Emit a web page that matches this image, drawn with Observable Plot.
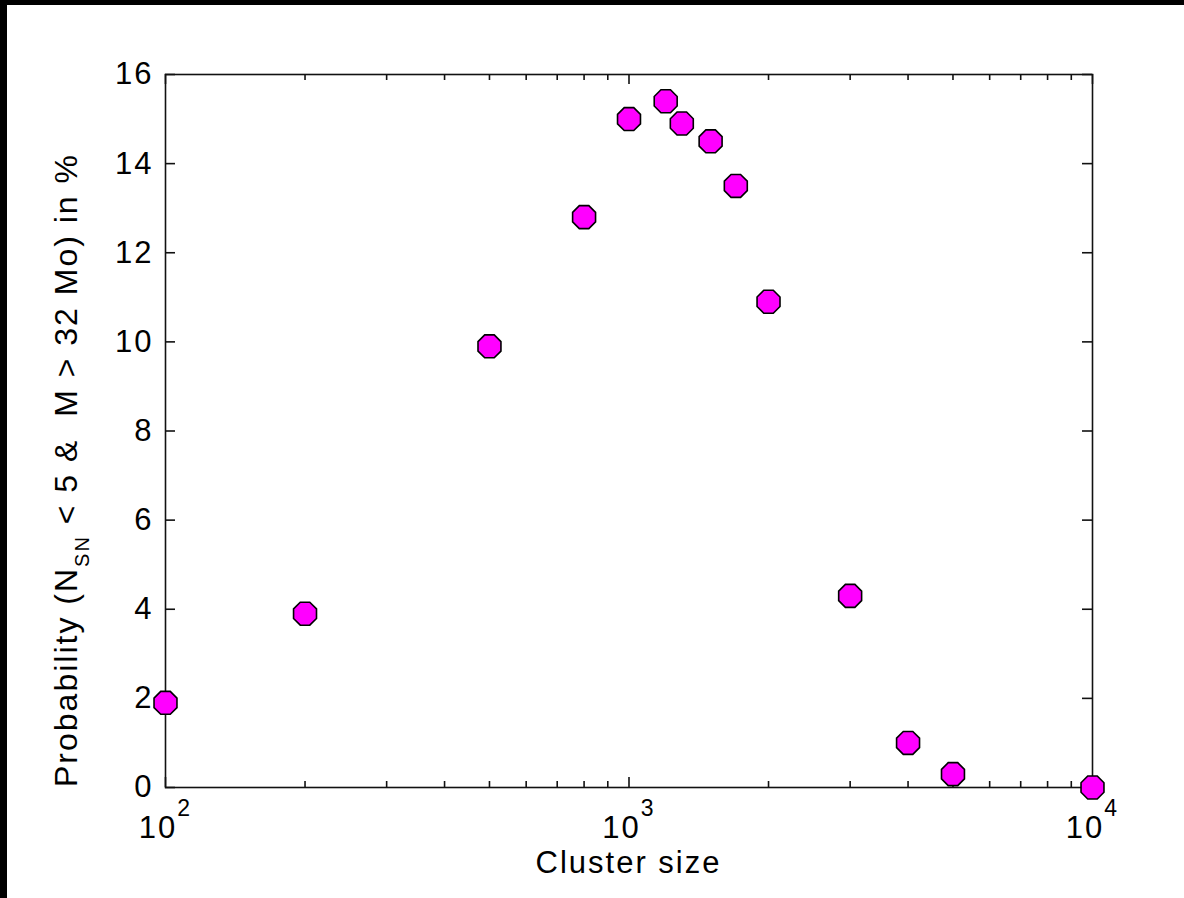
<!DOCTYPE html>
<html><head><meta charset="utf-8">
<script src="https://cdn.jsdelivr.net/npm/d3@7"></script>
<script src="https://cdn.jsdelivr.net/npm/@observablehq/plot@0.6"></script>
<style>
html,body{margin:0;padding:0;background:#000;width:1184px;height:898px;overflow:hidden;}
#wrap{position:absolute;left:7px;top:5px;width:1177px;height:893px;background:#fff;}
svg{display:block}
</style></head><body><div id="wrap"></div>
<script>
// Data
const clusterSize = [100, 200, 500, 800, 1000, 1200, 1300, 1500, 1700, 2000, 3000, 4000, 5000, 10000];
const probability = [1.9, 3.9, 9.9, 12.8, 15.0, 15.4, 14.9, 14.5, 13.5, 10.9, 4.3, 1.0, 0.3, 0.0];
const yTicks = [0, 2, 4, 6, 8, 10, 12, 14, 16];
const xMajorTicks = [100, 1000, 10000];
const xMinorTicks = [200, 300, 400, 500, 600, 700, 800, 900, 2000, 3000, 4000, 5000, 6000, 7000, 8000, 9000];
const xLabel = "Cluster size";
const yLabelParts = ["Probability (N", "SN", " < 5 &  M > 32 Mo) in %"];

const data = clusterSize.map((x, i) => ({x, y: probability[i]}));

const W = 1177, H = 893;
const mL = 158, mR = 92, mT = 69, mB = 111;
const pw = W - mL - mR, ph = H - mT - mB;
const FONT = "'Liberation Sans', Arial, Helvetica, sans-serif";

const octagon = {
  draw(ctx, size) {
    const r = Math.sqrt(size / Math.PI) * 1.08;
    for (let i = 0; i < 8; i++) {
      const a = Math.PI / 8 + i * Math.PI / 4;
      const px = r * Math.cos(a), py = r * Math.sin(a);
      if (i) ctx.lineTo(px, py); else ctx.moveTo(px, py);
    }
    ctx.closePath();
  }
};

const chart = Plot.plot({
  width: W, height: H,
  marginLeft: mL, marginRight: mR, marginTop: mT, marginBottom: mB,
  style: {fontFamily: FONT, fontSize: "31px", background: "white", color: "black", letterSpacing: "2px"},
  x: {type: "log", domain: [100, 10000]},
  y: {domain: [0, 16]},
  marks: [
    Plot.frame({stroke: "#111", strokeWidth: 1.6}),
    Plot.tickY(yTicks, {y: d => d, insetRight: pw - 10, stroke: "#111", strokeWidth: 1.6}),
    Plot.tickY(yTicks, {y: d => d, insetLeft: pw - 10, stroke: "#111", strokeWidth: 1.6}),
    Plot.tickX(xMajorTicks, {x: d => d, insetTop: ph - 10, stroke: "#111", strokeWidth: 1.6}),
    Plot.tickX(xMajorTicks, {x: d => d, insetBottom: ph - 10, stroke: "#111", strokeWidth: 1.6}),
    Plot.tickX(xMinorTicks, {x: d => d, insetTop: ph - 6, stroke: "#111", strokeWidth: 1.6}),
    Plot.tickX(xMinorTicks, {x: d => d, insetBottom: ph - 6, stroke: "#111", strokeWidth: 1.6}),
    Plot.axisY({ticks: yTicks, tickSize: 0, tickPadding: 12, label: null, fontSize: 31}),
    Plot.axisX({ticks: xMajorTicks, tickSize: 0, tickPadding: 28, label: null, fontSize: 31,
      tickFormat: d => "10^" + Math.round(Math.log10(d))}),
    Plot.dot(data, {x: "x", y: "y", r: 11.5, symbol: octagon, fill: "#ff00ff", stroke: "#000", strokeWidth: 1.6})
  ]
});

// superscripts on x tick labels
d3.select(chart).selectAll('g[aria-label="x-axis tick label"] text').each(function() {
  const t = this.textContent;
  if (t.includes("^")) {
    const [base, exp] = t.split("^");
    const sel = d3.select(this);
    sel.text(base);
    sel.append("tspan").attr("dy", -22).attr("font-size", 23).text(exp);
  }
});

const svg = d3.select(chart);
// x label
svg.append("text")
  .attr("x", mL + pw / 2).attr("y", 868)
  .attr("text-anchor", "middle").attr("font-size", 31).attr("fill", "black")
  .text(xLabel);
// y label with subscript
const yl = svg.append("text")
  .attr("transform", `translate(70,${mT + ph}) rotate(-90)`)
  .attr("text-anchor", "start").attr("font-size", 32).attr("fill", "black")
  .style("white-space", "pre");
yl.append("tspan").text(yLabelParts[0]);
yl.append("tspan").attr("dy", 12).attr("font-size", 20).text(yLabelParts[1]);
yl.append("tspan").attr("dy", -12).text(yLabelParts[2]);

document.getElementById("wrap").appendChild(chart);
</script></body></html>
